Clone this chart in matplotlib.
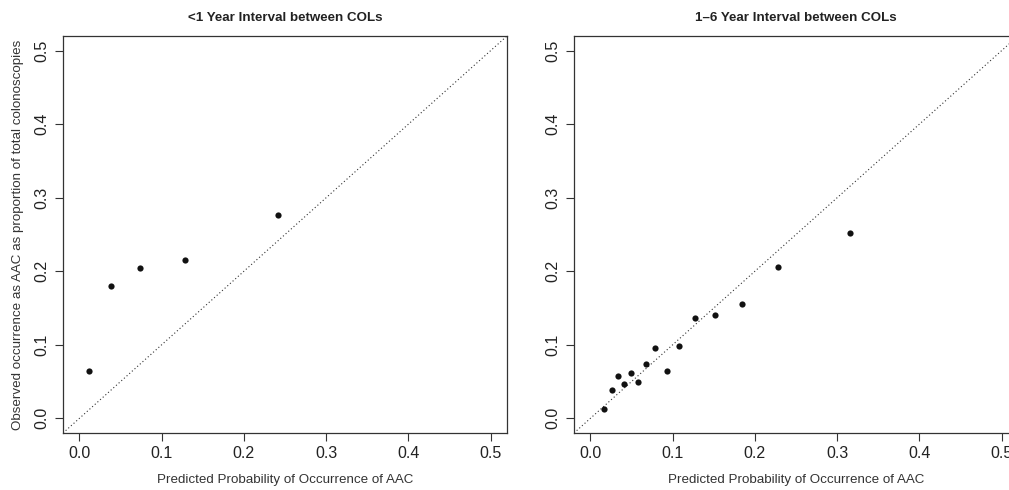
import matplotlib.pyplot as plt

plt.rcParams["font.family"] = ["Liberation Sans", "DejaVu Sans"]

# ---------------------------------------------------------
# Data
# ---------------------------------------------------------

short_pred = [0.012, 0.038, 0.074, 0.128, 0.242]
short_obs = [0.065, 0.180, 0.205, 0.215, 0.277]

long_pred = [0.016, 0.026, 0.033, 0.041, 0.049, 0.058, 0.068, 0.079,
             0.093, 0.108, 0.127, 0.151, 0.184, 0.228, 0.316]
long_obs = [0.012, 0.038, 0.058, 0.046, 0.062, 0.050, 0.074, 0.096,
            0.064, 0.098, 0.136, 0.140, 0.156, 0.206, 0.252]

titles = ["<1 Year Interval between COLs", "1\u20136 Year Interval between COLs"]
ticks = [0.0, 0.1, 0.2, 0.3, 0.4, 0.5]
tick_labels = ["0.0", "0.1", "0.2", "0.3", "0.4", "0.5"]

xlab = "Predicted Probability of Occurrence of AAC"
ylab = "Observed occurrence as AAC as proportion of total colonoscopies"

# ---------------------------------------------------------
# Figure
# ---------------------------------------------------------

W, H = 1009, 490
fig = plt.figure(figsize=(W / 100, H / 100), dpi=100)

boxes = [
    [63 / W, 57 / H, 444 / W, 397 / H],
    [574 / W, 57 / H, 444 / W, 397 / H],
]

panels = [(short_pred, short_obs), (long_pred, long_obs)]

for i, (box, (px, py)) in enumerate(zip(boxes, panels)):

    ax = fig.add_axes(box)

    lim = (-0.02, 0.52)
    ax.plot(lim, lim, color="#333333", linestyle=(0, (1, 2.2)), linewidth=0.8)

    ax.scatter(px, py, s=20, color="#111111", zorder=3, linewidths=0)

    ax.set_xlim(lim)
    ax.set_ylim(lim)

    ax.set_xticks(ticks)
    ax.set_xticklabels(tick_labels)
    ax.set_yticks(ticks)
    ax.set_yticklabels(tick_labels, rotation=90, va="center")

    ax.tick_params(direction="out", length=6, width=0.8, color="#333333",
                   labelsize=11.5, labelcolor="#222222")
    ax.tick_params(axis="x", pad=3)
    ax.tick_params(axis="y", pad=4)

    for sp in ax.spines.values():
        sp.set_color("#333333")
        sp.set_linewidth(0.9)

    ax.set_title(titles[i], fontsize=9.6, fontweight="bold", pad=11,
                 color="#222222")
    ax.set_xlabel(xlab, fontsize=9.6, color="#333333", labelpad=10)

    if i == 0:
        ax.set_ylabel(ylab, fontsize=9.6, color="#333333", labelpad=7)

fig.savefig("out.png", dpi=100)
